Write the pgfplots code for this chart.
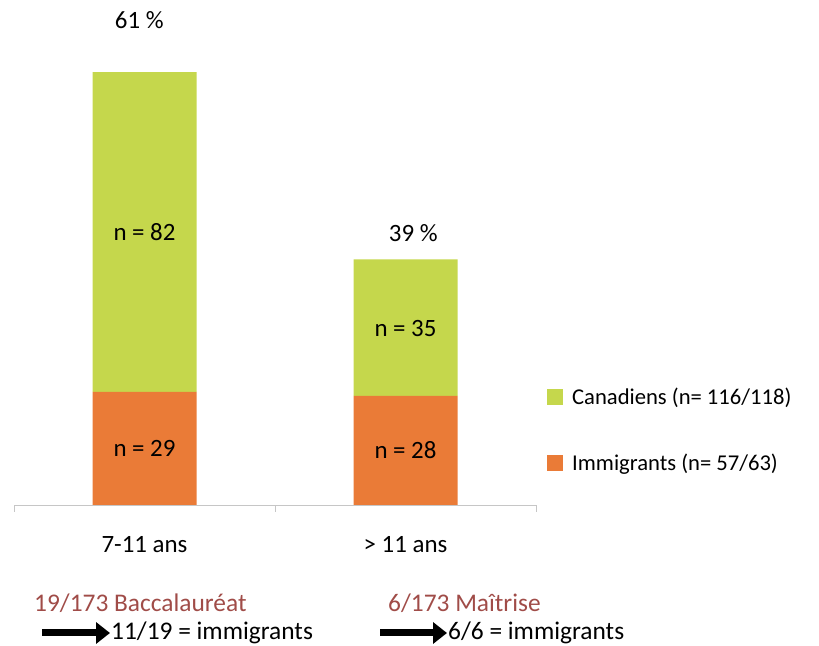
\documentclass[border=0pt]{standalone}
\usepackage{fontspec}
\setmainfont{Carlito}
\usepackage{pgfplots}
\pgfplotsset{compat=1.18}
\usetikzlibrary{arrows.meta}
\definecolor{cgreen}{RGB}{197,215,76}
\definecolor{corange}{RGB}{234,123,55}
\definecolor{cred}{RGB}{160,76,72}
\tikzset{lab/.style={font=\fontsize{25}{30}\selectfont}}
\begin{document}
\begin{tikzpicture}
\useasboundingbox (0,0) rectangle (819bp,646bp);
\begin{axis}[
  at={(14bp,141bp)}, anchor=south west,
  scale only axis, width=522bp, height=505bp,
  ybar stacked, bar width=104bp,
  xmin=-0.5, xmax=1.5, ymin=0, ymax=129.5,
  axis y line=none,
  axis x line*=bottom,
  x axis line style={gray!45, line width=0.8pt},
  xtick={0,1}, xticklabels={7-11 ans, > 11 ans},
  major tick length=0pt,
  xticklabel style={anchor=center, yshift=-40bp, font=\fontsize{25}{30}\selectfont},
  extra x ticks={-0.5,0.5,1.5}, extra x tick labels={},
  extra x tick style={major tick length=7bp, tick align=outside, tick style={gray!45, line width=0.8pt}},
  clip=false,
  legend style={at={(1.021,0.1485)}, anchor=west, draw=none, fill=none,
    font=\fontsize{22.7}{27}\selectfont, row sep=44bp, inner sep=0pt,
    nodes={inner xsep=0bp}},
  legend cell align=left,
  reverse legend,
  legend image code/.code={\fill[#1] (0bp,-8bp) rectangle (16bp,8bp);},
  /tikz/every odd column/.append style={column sep=9bp},
]
\addplot[fill=corange, draw=none] coordinates {(0,29) (1,28)};
\addlegendentry{Immigrants (n= 57/63)}
\addplot[fill=cgreen, draw=none] coordinates {(0,82) (1,35)};
\addlegendentry{Canadiens (n= 116/118)}
\coordinate (l1) at (axis cs:0,14.5);
\coordinate (l2) at (axis cs:0,70);
\coordinate (l3) at (axis cs:1,14);
\coordinate (l4) at (axis cs:1,45.3);
\coordinate (p1) at (axis cs:-0.02,124.4);
\coordinate (p2) at (axis cs:1.03,69.7);
\end{axis}
\node[lab] at (l1) {n = 29};
\node[lab] at (l2) {n = 82};
\node[lab] at (l3) {n = 28};
\node[lab] at (l4) {n = 35};
\node[lab] at (p1) {61 \%};
\node[lab] at (p2) {39 \%};
\begin{scope}[font=\fontsize{25.5}{30}\selectfont]
\node[anchor=west, inner sep=0pt, text=cred] at (34bp,43bp) {19/173 Baccalauréat};
\draw[line width=7bp, -{Triangle[length=14bp,width=21bp]}] (42bp,13bp) -- (110bp,13bp);
\node[anchor=west, inner sep=0pt] at (111bp,13bp) {11/19 = immigrants};
\node[anchor=west, inner sep=0pt, text=cred] at (388bp,43bp) {6/173 Maîtrise};
\draw[line width=7bp, -{Triangle[length=14bp,width=21bp]}] (380bp,13bp) -- (447bp,13bp);
\node[anchor=west, inner sep=0pt] at (448bp,13bp) {6/6 = immigrants};
\end{scope}
\end{tikzpicture}
\end{document}
